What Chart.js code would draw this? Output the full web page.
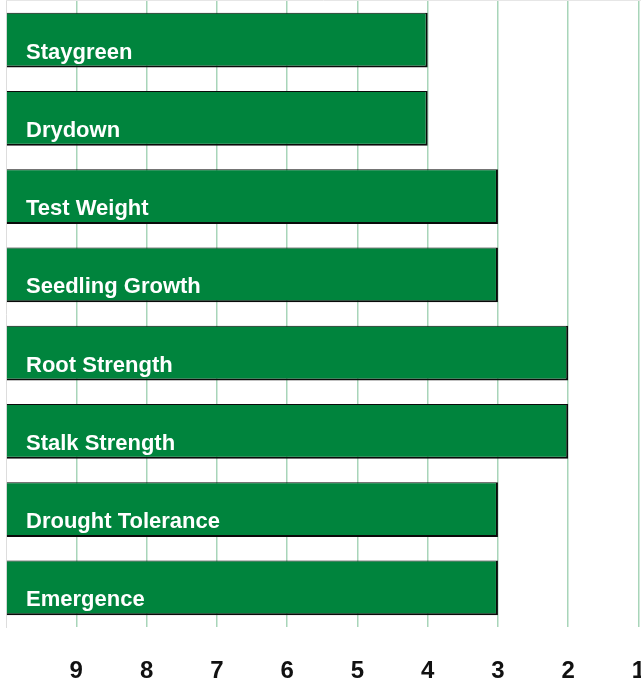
<!DOCTYPE html>
<html>
<head>
<meta charset="utf-8">
<script src="https://cdn.jsdelivr.net/npm/chart.js@4"></script>
<style>
  html, body { margin: 0; padding: 0; background: #fff; }
  #wrap { width: 641px; height: 682px; }
</style>
</head>
<body>
<div id="wrap"><canvas id="myChart"></canvas></div>
<script>
const categories = ["Staygreen", "Drydown", "Test Weight", "Seedling Growth",
  "Root Strength", "Stalk Strength", "Drought Tolerance", "Emergence"];
const ratings = [4, 4, 3, 3, 2, 2, 3, 3];
const scaleMin = 1;
const scaleMax = 10;

// writes the trait name inside each bar
const barLabels = {
  id: "barLabels",
  afterDatasetsDraw(chart) {
    const ctx = chart.ctx;
    const x0 = chart.scales.x.getPixelForValue(scaleMax);
    chart.getDatasetMeta(0).data.forEach((bar, i) => {
      const { y, height } = bar.getProps(["y", "height"], true);
      ctx.save();
      ctx.fillStyle = "#fff";
      ctx.font = "bold 22px 'Liberation Sans', Arial, sans-serif";
      ctx.textBaseline = "alphabetic";
      ctx.fillText(categories[i], x0 + 20, y + height / 2 - 9);
      ctx.restore();
    });
  },
};

const topLine = {
  id: "topLine",
  beforeDatasetsDraw(chart) {
    const { ctx, chartArea } = chart;
    ctx.save();
    ctx.strokeStyle = "#e6e6e6";
    ctx.lineWidth = 1;
    ctx.beginPath();
    ctx.moveTo(chartArea.left, 0.5);
    ctx.lineTo(chart.width, 0.5);
    ctx.stroke();
    ctx.restore();
  },
};

new Chart(document.getElementById("myChart"), {
  type: "bar",
  data: {
    labels: categories,
    datasets: [{
      data: ratings,
      base: scaleMax,
      backgroundColor: "#00843D",
      borderColor: "#0a0a0a",
      borderWidth: { top: 1, right: 2, bottom: 2, left: 0 },
      borderSkipped: false,
      categoryPercentage: 1,
      barPercentage: 0.7,
    }],
  },
  options: {
    indexAxis: "y",
    responsive: true,
    maintainAspectRatio: false,
    animation: false,
    layout: { padding: { top: 1, right: 2.5, left: 0, bottom: 0 } },
    plugins: { legend: { display: false }, tooltip: { enabled: false } },
    scales: {
      x: {
        min: scaleMin,
        max: scaleMax,
        reverse: true,
        afterFit: (s) => { s.height = 55; s.paddingLeft = 0; s.paddingRight = 0; },
        grid: {
          drawTicks: false,
          color: (c) => c.tick && c.tick.value === scaleMax ? "rgba(0,0,0,0)" : "#a8d5b9",
          lineWidth: 1.5,
        },
        border: { display: false },
        ticks: {
          stepSize: 1,
          padding: 30,
          maxRotation: 0,
          color: "#111",
          font: { family: "'Liberation Sans', Arial, sans-serif", size: 24, weight: "bold" },
          callback: (v) => (v === scaleMax ? "" : v),
        },
      },
      y: {
        afterFit: (s) => { s.width = 6; s.paddingTop = 0; s.paddingBottom = 0; },
        grid: { display: false },
        border: { display: true, color: "#dddddd", width: 1 },
        ticks: { display: false },
      },
    },
  },
  plugins: [barLabels, topLine],
});
</script>
</body>
</html>
